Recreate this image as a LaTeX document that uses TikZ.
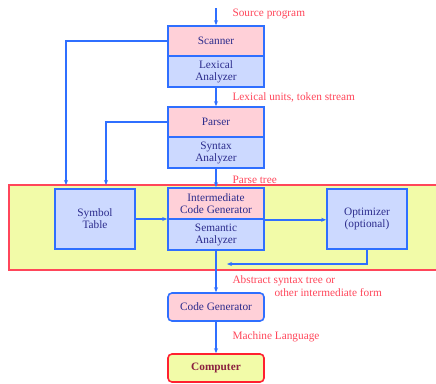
\documentclass[tikz,border=0pt]{standalone}
\usepackage{fontspec}
\setmainfont{Liberation Serif}
\usetikzlibrary{arrows.meta}
\definecolor{boxblue}{RGB}{47,111,255}
\definecolor{fillpink}{RGB}{255,208,216}
\definecolor{fillblue}{RGB}{204,217,255}
\definecolor{fillyellow}{RGB}{242,251,168}
\definecolor{labelred}{RGB}{255,70,90}
\definecolor{textnavy}{RGB}{43,43,140}
\definecolor{compred}{RGB}{255,32,48}
\definecolor{compmaroon}{RGB}{139,32,64}

\begin{document}
\begin{tikzpicture}[x=1pt, y=-1pt]
\tikzset{node distance=30.5pt,
    upper/.style={rectangle, draw=boxblue, line width=1.6pt, fill=fillpink, text=textnavy,
      minimum width=96pt, minimum height=30pt, align=center, inner sep=1pt},
    lower/.style={upper, fill=fillblue, minimum height=31pt},
    sidebox/.style={lower, minimum width=80pt, minimum height=60pt},
    group/.style={rectangle, draw=labelred, line width=1.4pt, fill=fillyellow,
      minimum width=436pt, minimum height=85pt},
    lbl/.style={text=labelred, anchor=west, inner sep=0pt, xshift=16pt, align=left},
    flow/.style={draw=boxblue, line width=1.1pt, -{Stealth[length=5pt, width=4pt]}},
    feed/.style={flow, line width=1.8pt}
}
\useasboundingbox (0,0) rectangle (436,383);
\fontsize{11.3}{13}\selectfont

  \node[group] (front) at (227,227.5) {};
  \node[coordinate] (input) at (216,8) {};
  \node[upper] (scan) at (216,41) {Scanner};
  \node[lower, below of=scan] (lex) {Lexical\\[-1pt]Analyzer};
  \node[upper, below of=lex, node distance=50.5pt] (parse) {Parser};
  \node[lower, below of=parse] (syn) {Syntax\\[-1pt]Analyzer};
  \node[lower, fill=fillpink, below of=syn, node distance=51pt] (icg) {Intermediate\\[-1pt]Code Generator};
  \node[lower, below of=icg, node distance=31pt] (sem) {Semantic\\[-1pt]Analyzer};
  \node[sidebox] (sym) at (95,219) {Symbol\\[-1pt]Table};
  \node[sidebox] (opt) at (367,219) {Optimizer\\[-1pt](optional)};
  \node[upper, rounded corners=4pt, minimum height=28pt, below of=sem, node distance=72.5pt] (cg) {Code Generator};
  \node[upper, rounded corners=4pt, draw=compred, fill=fillyellow, text=compmaroon,
    font=\bfseries, minimum height=28pt, below of=cg, node distance=61pt] (comp) {Computer};
  \coordinate (symin1) at (66,185);
  \coordinate (symin2) at (106,185);
  \coordinate (optback) at (227,264);

  \draw[flow] (input) -- node[lbl, pos=0.33] {Source program} (scan);
  \draw[flow] (lex) -- node[lbl, pos=0.5] {Lexical units, token stream} (parse);
  \draw[flow] (syn) -- node[lbl, pos=0.6] {Parse tree} (icg);
  \draw[feed] (scan.west) -| (symin1);
  \draw[feed] (parse.west) -| (symin2);
  \draw[feed] (sym) -- (sym -| icg.west);
  \draw[feed] (icg.south east) -- (opt.west |- icg.south east);
  \draw[feed] (opt.south) |- (optback);
  \draw[flow] (sem) -- node[lbl, pos=0.58, anchor=north west]
    {Abstract syntax tree or\\[0pt]\hspace*{42pt}other intermediate form} (cg);
  \draw[flow] (cg) -- node[lbl, pos=0.48] {Machine Language} (comp);
\end{tikzpicture}
\end{document}
